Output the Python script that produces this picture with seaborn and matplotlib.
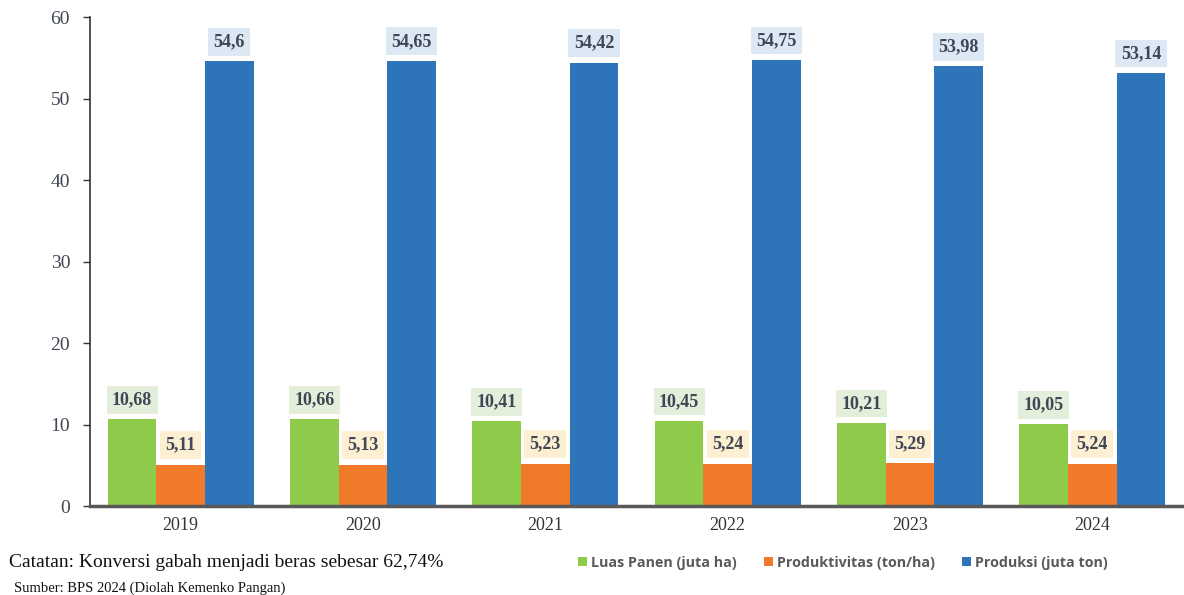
import matplotlib
matplotlib.use("Agg")
import matplotlib.pyplot as plt
import seaborn as sns
import pandas as pd
from matplotlib.patches import Patch

years = ["2019", "2020", "2021", "2022", "2023", "2024"]
luas_panen = [10.68, 10.66, 10.41, 10.45, 10.21, 10.05]
produktivitas = [5.11, 5.13, 5.23, 5.24, 5.29, 5.24]
produksi = [54.6, 54.65, 54.42, 54.75, 53.98, 53.14]
series_names = ["Luas Panen (juta ha)", "Produktivitas (ton/ha)", "Produksi (juta ton)"]
label_texts = [
    ["10,68", "10,66", "10,41", "10,45", "10,21", "10,05"],
    ["5,11", "5,13", "5,23", "5,24", "5,29", "5,24"],
    ["54,6", "54,65", "54,42", "54,75", "53,98", "53,14"],
]

colors = ["#8FCB4A", "#F07A2A", "#2E74B8"]
box_colors = ["#E3EEDB", "#FCEFD2", "#DCE8F4"]

sns.set_theme(style="white")
plt.rcParams["font.family"] = ["Liberation Serif", "DejaVu Serif"]

rows = []
for name, vals in zip(series_names, [luas_panen, produktivitas, produksi]):
    for y, v in zip(years, vals):
        rows.append({"Tahun": y, "Nilai": v, "Seri": name})
df = pd.DataFrame(rows)

fig = plt.figure(figsize=(11.84, 5.95), dpi=100)
ax = fig.add_axes([0.0756, 0.149, 0.924, 0.822])

sns.barplot(data=df, x="Tahun", y="Nilai", hue="Seri", hue_order=series_names,
            palette=colors, width=0.8, saturation=1, ax=ax, legend=False,
            edgecolor="none", linewidth=0)

for i, cont in enumerate(ax.containers):
    ax.bar_label(cont, labels=label_texts[i], padding=8, fontsize=13,
                 fontweight="bold", color="#404654",
                 bbox=dict(boxstyle="square,pad=0.3", fc=box_colors[i], ec="none"))

ax.set_ylim(0, 60)
ax.set_xlim(-0.5, 5.5)
ax.set_yticks(range(0, 61, 10))
ax.set_xlabel("")
ax.set_ylabel("")
ax.tick_params(axis="y", labelsize=14, labelcolor="#404654", length=5, width=1,
               direction="out", left=True, pad=9, color="#333333")
ax.tick_params(axis="x", labelsize=13, colors="#333333", length=0, pad=8)
for s in ["top", "right"]:
    ax.spines[s].set_visible(False)
ax.spines["left"].set_color("#333333")
ax.spines["left"].set_linewidth(1.2)
ax.spines["bottom"].set_color("#595959")
ax.spines["bottom"].set_linewidth(2.5)

fig.text(0.008, 0.055, "Catatan: Konversi gabah menjadi beras sebesar 62,74%",
         fontsize=14, color="#111111", va="center", ha="left")
fig.text(0.012, 0.012, "Sumber: BPS 2024 (Diolah Kemenko Pangan)",
         fontsize=10.5, color="#111111", va="center", ha="left")

handles = [Patch(facecolor=c, edgecolor="none") for c in colors]
leg = fig.legend(handles, series_names, loc="center", bbox_to_anchor=(0.712, 0.054),
                 ncol=3, frameon=False, handlelength=0.6, handleheight=0.6,
                 handletextpad=0.3, columnspacing=1.9,
                 prop={"family": "Open Sans", "size": 10.3, "weight": "bold"})
for t in leg.get_texts():
    t.set_color("#595959")

fig.savefig("out.png", dpi=100)
